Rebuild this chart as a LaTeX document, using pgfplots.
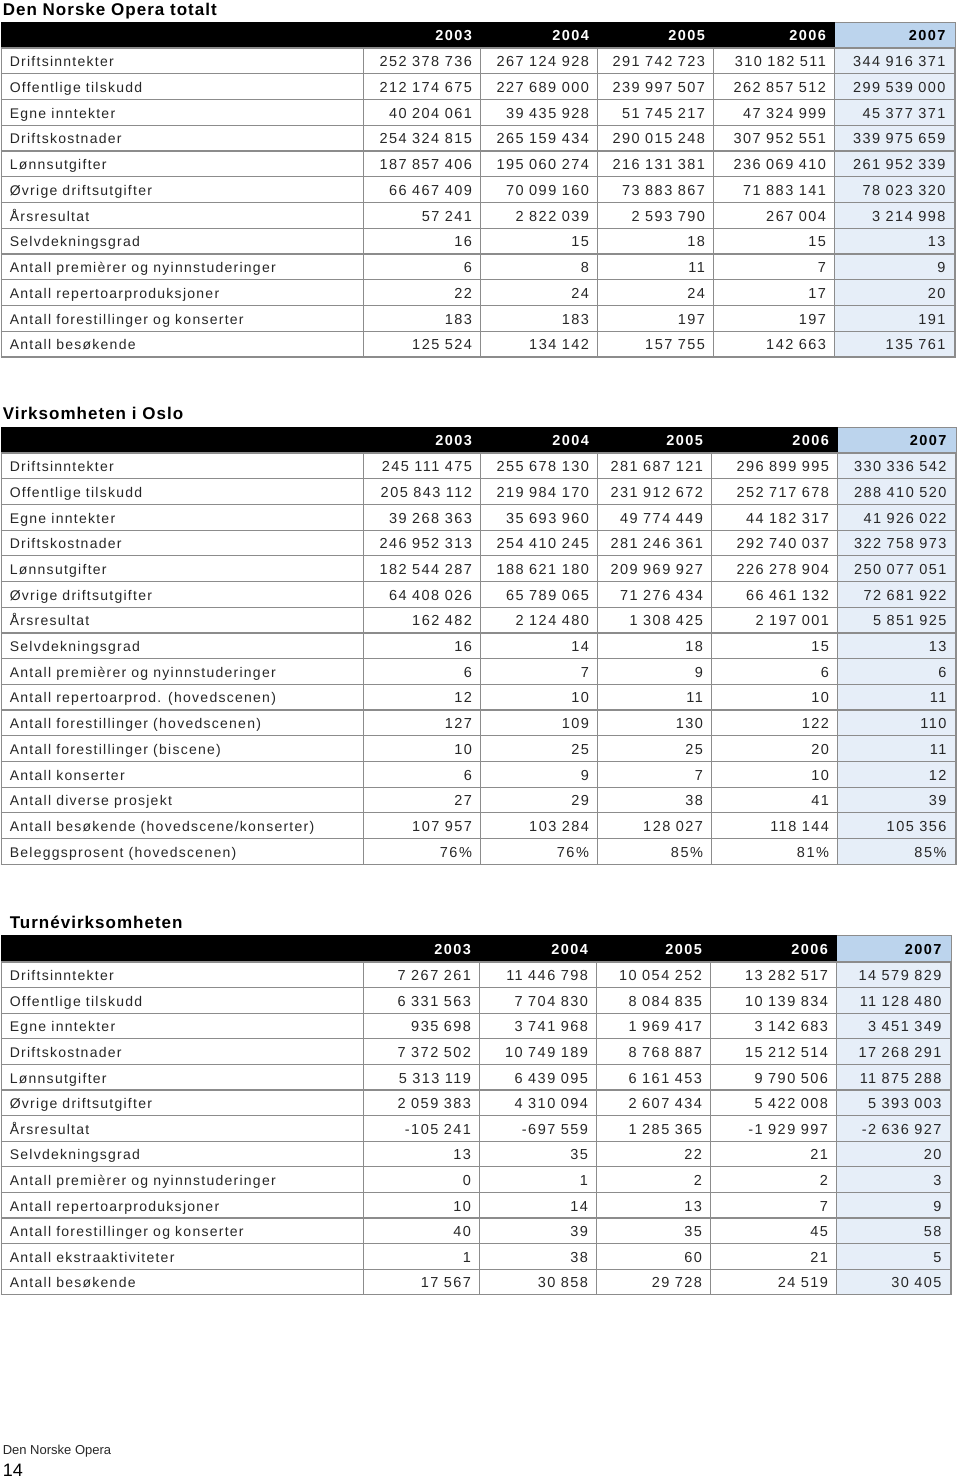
\documentclass[border=0pt]{standalone}
\usepackage{fontspec}
\setmainfont{Liberation Sans}
\usepackage{pgfplots}
\pgfplotsset{compat=1.18}
\newfontfamily\bodyf[LetterSpace=9]{Liberation Sans}
\newfontfamily\numf[LetterSpace=10]{Liberation Sans}
\newfontfamily\titlef[LetterSpace=6]{Liberation Sans}
\definecolor{txt}{HTML}{262626}
\definecolor{gridc}{HTML}{8C8C8C}
\definecolor{hblue}{HTML}{BCD4ED}
\definecolor{cblue}{HTML}{E6EEF8}
\tikzset{
  lbl/.style={anchor=base west, inner sep=0pt, text=txt, font=\bodyf\fontsize{14}{16}\selectfont},
  num/.style={anchor=base east, inner sep=0pt, text=txt, font=\numf\fontsize{14.5}{16}\selectfont},
  hd/.style={anchor=base east, inner sep=0pt, text=white, font=\numf\bfseries\fontsize{14.5}{16}\selectfont},
  ttl/.style={anchor=base west, inner sep=0pt, text=black, font=\titlef\bfseries\fontsize{17}{20}\selectfont},
  gl/.style={gridc, line width=1.2pt},
}

% table geometry: header top, header bottom, row height, column borders
\def\Atop{22}\def\Ahb{48}\def\Arh{25.75}
\def\Aa{363}\def\Ab{480}\def\Ac{597}\def\Ad{713}\def\Ae{834}\def\Af{955}
\def\Btop{427}\def\Bhb{453}\def\Brh{25.7}
\def\Ba{363}\def\Bb{480}\def\Bc{597}\def\Bd{711}\def\Be{837}\def\Bf{956}
\def\Ctop{935}\def\Chb{962}\def\Crh{25.6}
\def\Ca{363}\def\Cb{479}\def\Cc{596}\def\Cd{710}\def\Ce{836}\def\Cf{951}

\newcommand\cn[2]{\csname#1#2\endcsname}
\newcommand\Yb[2]{\cn{#1}{hb}+(#2-0.5)*\cn{#1}{rh}+5.8}

% #1 table, #2 row index, #3 label, #4..#8 values
\newcommand\Rw[8]{%
  \fill[cblue] (axis cs:\cn{#1}{e},{\cn{#1}{hb}+(#2-1)*\cn{#1}{rh}}) rectangle (axis cs:\cn{#1}{f},{\cn{#1}{hb}+#2*\cn{#1}{rh}});
  \node[lbl] at (axis cs:9,{\Yb{#1}{#2}}) {#3};
  \node[num] at (axis cs:{\cn{#1}{b}-8.5},{\Yb{#1}{#2}}) {#4};
  \node[num] at (axis cs:{\cn{#1}{c}-8.5},{\Yb{#1}{#2}}) {#5};
  \node[num] at (axis cs:{\cn{#1}{d}-8.5},{\Yb{#1}{#2}}) {#6};
  \node[num] at (axis cs:{\cn{#1}{e}-8.5},{\Yb{#1}{#2}}) {#7};
  \node[num] at (axis cs:{\cn{#1}{f}-10},{\Yb{#1}{#2}}) {#8};
}
% header: #1 table
\newcommand\Hdr[1]{%
  \fill[black] (axis cs:0,\cn{#1}{top}) rectangle (axis cs:\cn{#1}{e},\cn{#1}{hb});
  \fill[hblue] (axis cs:\cn{#1}{e},\cn{#1}{top}) rectangle (axis cs:\cn{#1}{f},\cn{#1}{hb});
  \draw[gridc,line width=0.8pt] (axis cs:\cn{#1}{e},{\cn{#1}{top}+0.4}) -- (axis cs:{\cn{#1}{f}-0.4},{\cn{#1}{top}+0.4}) -- (axis cs:{\cn{#1}{f}-0.4},\cn{#1}{hb});
  \node[hd] at (axis cs:{\cn{#1}{b}-8.5},{0.5*(\cn{#1}{top}+\cn{#1}{hb})+5.8}) {2003};
  \node[hd] at (axis cs:{\cn{#1}{c}-8.5},{0.5*(\cn{#1}{top}+\cn{#1}{hb})+5.8}) {2004};
  \node[hd] at (axis cs:{\cn{#1}{d}-8.5},{0.5*(\cn{#1}{top}+\cn{#1}{hb})+5.8}) {2005};
  \node[hd] at (axis cs:{\cn{#1}{e}-8.5},{0.5*(\cn{#1}{top}+\cn{#1}{hb})+5.8}) {2006};
  \node[hd,text=black] at (axis cs:{\cn{#1}{f}-10},{0.5*(\cn{#1}{top}+\cn{#1}{hb})+5.8}) {2007};
}
% grid: #1 table, #2 number of rows
\newcommand\Grd[2]{%
  \pgfplotsinvokeforeach{0,...,#2}{%
    \draw[gl] (axis cs:0,{\cn{#1}{hb}+##1*\cn{#1}{rh}}) -- (axis cs:\cn{#1}{f},{\cn{#1}{hb}+##1*\cn{#1}{rh}});}
  \draw[gl] (axis cs:0.6,\cn{#1}{hb}) -- (axis cs:0.6,{\cn{#1}{hb}+#2*\cn{#1}{rh}});
  \draw[gl] (axis cs:\cn{#1}{a},\cn{#1}{hb}) -- (axis cs:\cn{#1}{a},{\cn{#1}{hb}+#2*\cn{#1}{rh}});
  \draw[gl] (axis cs:\cn{#1}{b},\cn{#1}{hb}) -- (axis cs:\cn{#1}{b},{\cn{#1}{hb}+#2*\cn{#1}{rh}});
  \draw[gl] (axis cs:\cn{#1}{c},\cn{#1}{hb}) -- (axis cs:\cn{#1}{c},{\cn{#1}{hb}+#2*\cn{#1}{rh}});
  \draw[gl] (axis cs:\cn{#1}{d},\cn{#1}{hb}) -- (axis cs:\cn{#1}{d},{\cn{#1}{hb}+#2*\cn{#1}{rh}});
  \draw[gl] (axis cs:\cn{#1}{e},\cn{#1}{hb}) -- (axis cs:\cn{#1}{e},{\cn{#1}{hb}+#2*\cn{#1}{rh}});
  \draw[gl] (axis cs:{\cn{#1}{f}-0.6},\cn{#1}{hb}) -- (axis cs:{\cn{#1}{f}-0.6},{\cn{#1}{hb}+#2*\cn{#1}{rh}});
}

\begin{document}
\begin{tikzpicture}
\begin{axis}[
  x=1pt, y=1pt, xmin=0, xmax=960, ymin=0, ymax=1479, y dir=reverse,
  hide axis, scale only axis, clip=false,
]
\path (axis cs:0,0) rectangle (axis cs:960,1479);

% ---------- Table 1 ----------
\node[ttl] at (axis cs:2,15.5) {Den Norske Opera totalt};
\Hdr{A}
\Rw{A}{1}{Driftsinntekter}{252 378 736}{267 124 928}{291 742 723}{310 182 511}{344 916 371}
\Rw{A}{2}{Offentlige tilskudd}{212 174 675}{227 689 000}{239 997 507}{262 857 512}{299 539 000}
\Rw{A}{3}{Egne inntekter}{40 204 061}{39 435 928}{51 745 217}{47 324 999}{45 377 371}
\Rw{A}{4}{Driftskostnader}{254 324 815}{265 159 434}{290 015 248}{307 952 551}{339 975 659}
\Rw{A}{5}{Lønnsutgifter}{187 857 406}{195 060 274}{216 131 381}{236 069 410}{261 952 339}
\Rw{A}{6}{Øvrige driftsutgifter}{66 467 409}{70 099 160}{73 883 867}{71 883 141}{78 023 320}
\Rw{A}{7}{Årsresultat}{57 241}{2 822 039}{2 593 790}{267 004}{3 214 998}
\Rw{A}{8}{Selvdekningsgrad}{16}{15}{18}{15}{13}
\Rw{A}{9}{Antall premièrer og nyinnstuderinger}{6}{8}{11}{7}{9}
\Rw{A}{10}{Antall repertoarproduksjoner}{22}{24}{24}{17}{20}
\Rw{A}{11}{Antall forestillinger og konserter}{183}{183}{197}{197}{191}
\Rw{A}{12}{Antall besøkende}{125 524}{134 142}{157 755}{142 663}{135 761}
\Grd{A}{12}

% ---------- Table 2 ----------
\node[ttl] at (axis cs:2,419.5) {Virksomheten i Oslo};
\Hdr{B}
\Rw{B}{1}{Driftsinntekter}{245 111 475}{255 678 130}{281 687 121}{296 899 995}{330 336 542}
\Rw{B}{2}{Offentlige tilskudd}{205 843 112}{219 984 170}{231 912 672}{252 717 678}{288 410 520}
\Rw{B}{3}{Egne inntekter}{39 268 363}{35 693 960}{49 774 449}{44 182 317}{41 926 022}
\Rw{B}{4}{Driftskostnader}{246 952 313}{254 410 245}{281 246 361}{292 740 037}{322 758 973}
\Rw{B}{5}{Lønnsutgifter}{182 544 287}{188 621 180}{209 969 927}{226 278 904}{250 077 051}
\Rw{B}{6}{Øvrige driftsutgifter}{64 408 026}{65 789 065}{71 276 434}{66 461 132}{72 681 922}
\Rw{B}{7}{Årsresultat}{162 482}{2 124 480}{1 308 425}{2 197 001}{5 851 925}
\Rw{B}{8}{Selvdekningsgrad}{16}{14}{18}{15}{13}
\Rw{B}{9}{Antall premièrer og nyinnstuderinger}{6}{7}{9}{6}{6}
\Rw{B}{10}{Antall repertoarprod. (hovedscenen)}{12}{10}{11}{10}{11}
\Rw{B}{11}{Antall forestillinger (hovedscenen)}{127}{109}{130}{122}{110}
\Rw{B}{12}{Antall forestillinger (biscene)}{10}{25}{25}{20}{11}
\Rw{B}{13}{Antall konserter}{6}{9}{7}{10}{12}
\Rw{B}{14}{Antall diverse prosjekt}{27}{29}{38}{41}{39}
\Rw{B}{15}{Antall besøkende (hovedscene/konserter)}{107 957}{103 284}{128 027}{118 144}{105 356}
\Rw{B}{16}{Beleggsprosent (hovedscenen)}{76\%}{76\%}{85\%}{81\%}{85\%}
\Grd{B}{16}

% ---------- Table 3 ----------
\node[ttl] at (axis cs:9,928) {Turnévirksomheten};
\Hdr{C}
\Rw{C}{1}{Driftsinntekter}{7 267 261}{11 446 798}{10 054 252}{13 282 517}{14 579 829}
\Rw{C}{2}{Offentlige tilskudd}{6 331 563}{7 704 830}{8 084 835}{10 139 834}{11 128 480}
\Rw{C}{3}{Egne inntekter}{935 698}{3 741 968}{1 969 417}{3 142 683}{3 451 349}
\Rw{C}{4}{Driftskostnader}{7 372 502}{10 749 189}{8 768 887}{15 212 514}{17 268 291}
\Rw{C}{5}{Lønnsutgifter}{5 313 119}{6 439 095}{6 161 453}{9 790 506}{11 875 288}
\Rw{C}{6}{Øvrige driftsutgifter}{2 059 383}{4 310 094}{2 607 434}{5 422 008}{5 393 003}
\Rw{C}{7}{Årsresultat}{-105 241}{-697 559}{1 285 365}{-1 929 997}{-2 636 927}
\Rw{C}{8}{Selvdekningsgrad}{13}{35}{22}{21}{20}
\Rw{C}{9}{Antall premièrer og nyinnstuderinger}{0}{1}{2}{2}{3}
\Rw{C}{10}{Antall repertoarproduksjoner}{10}{14}{13}{7}{9}
\Rw{C}{11}{Antall forestillinger og konserter}{40}{39}{35}{45}{58}
\Rw{C}{12}{Antall ekstraaktiviteter}{1}{38}{60}{21}{5}
\Rw{C}{13}{Antall besøkende}{17 567}{30 858}{29 728}{24 519}{30 405}
\Grd{C}{13}

% ---------- Footer ----------
\node[anchor=base west, inner sep=0pt, text=txt, font=\fontsize{13}{15}\selectfont] at (axis cs:2,1454) {Den Norske Opera};
\node[anchor=base west, inner sep=0pt, text=black, font=\fontsize{18}{20}\selectfont] at (axis cs:2,1476) {14};
\end{axis}
\end{tikzpicture}
\end{document}
